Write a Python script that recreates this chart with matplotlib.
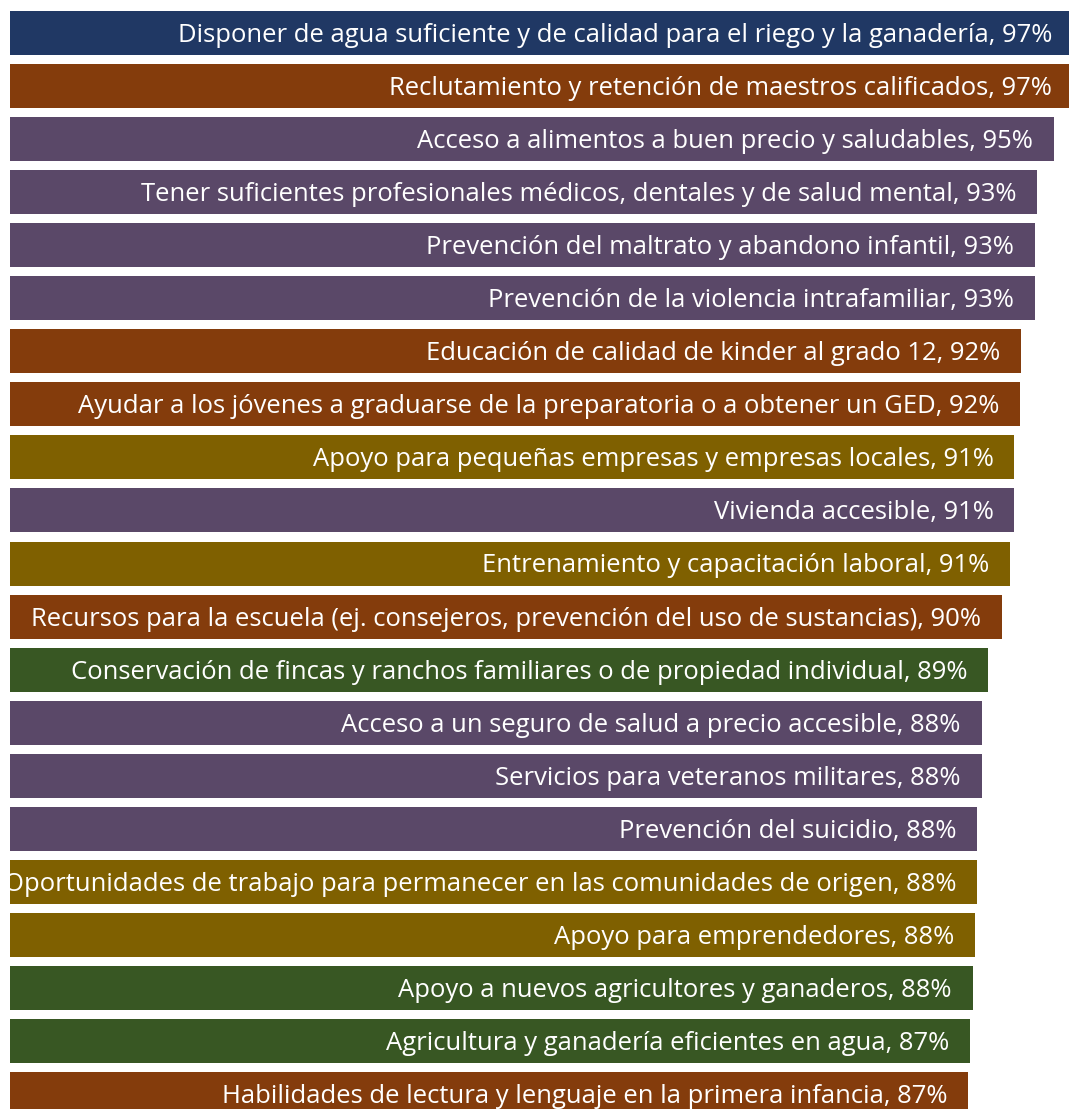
import matplotlib
matplotlib.use("Agg")
import matplotlib.pyplot as plt

categories = [
    "Disponer de agua suficiente y de calidad para el riego y la ganadería",
    "Reclutamiento y retención de maestros calificados",
    "Acceso a alimentos a buen precio y saludables",
    "Tener suficientes profesionales médicos, dentales y de salud mental",
    "Prevención del maltrato y abandono infantil",
    "Prevención de la violencia intrafamiliar",
    "Educación de calidad de kinder al grado 12",
    "Ayudar a los jóvenes a graduarse de la preparatoria o a obtener un GED",
    "Apoyo para pequeñas empresas y empresas locales",
    "Vivienda accesible",
    "Entrenamiento y capacitación laboral",
    "Recursos para la escuela (ej. consejeros, prevención del uso de sustancias)",
    "Conservación de fincas y ranchos familiares o de propiedad individual",
    "Acceso a un seguro de salud a precio accesible",
    "Servicios para veteranos militares",
    "Prevención del suicidio",
    "Oportunidades de trabajo para permanecer en las comunidades de origen",
    "Apoyo para emprendedores",
    "Apoyo a nuevos agricultores y ganaderos",
    "Agricultura y ganadería eficientes en agua",
    "Habilidades de lectura y lenguaje en la primera infancia",
]
values = [96.8, 96.7, 95.0, 93.45, 93.3, 93.3, 92.0, 91.9, 91.4, 91.4, 91.0,
          90.3, 89.0, 88.4, 88.4, 88.0, 88.0, 87.8, 87.6, 87.35, 87.2]
pct_labels = ["97%", "97%", "95%", "93%", "93%", "93%", "92%", "92%", "91%", "91%", "91%",
              "90%", "89%", "88%", "88%", "88%", "88%", "88%", "88%", "87%", "87%"]
groups = ["agua", "educacion", "salud", "salud", "salud", "salud", "educacion", "educacion",
          "economia", "salud", "economia", "educacion", "agricultura", "salud", "salud",
          "salud", "economia", "economia", "agricultura", "agricultura", "educacion"]
group_colors = {
    "agua": "#203864",
    "educacion": "#843C0C",
    "salud": "#5A4868",
    "economia": "#7F6000",
    "agricultura": "#385723",
}

W, H = 1069, 1109
fig = plt.figure(figsize=(W / 100, H / 100), dpi=100)
ax = fig.add_axes([0, 0, 1, 1])

px_per_unit = 10.99
x0_px = 10.0
ax.set_xlim(-x0_px / px_per_unit, (W - x0_px) / px_per_unit)
pitch = 53.05
first_center = 33.0
ax.set_ylim((H - first_center) / pitch, -first_center / pitch)

ys = list(range(len(categories)))
colors = [group_colors[g] for g in groups]
ax.barh(ys, values, height=44 / pitch, color=colors, left=0)

FONT = ["Open Sans", "DejaVu Sans"]
pad_px = 21
labels = [f"{c}, {p}" for c, p in zip(categories, pct_labels)]

# choose a font size: first label ~912 px wide, but every label must stay inside the figure
renderer = fig.canvas.get_renderer()
fs = None
for i, lab in enumerate(labels):
    probe = fig.text(0, 0, lab, fontsize=16, family=FONT)
    w16 = probe.get_window_extent(renderer).width
    probe.remove()
    if i == 0:
        cand = 16 * 912 / w16
    else:
        avail = x0_px + values[i] * px_per_unit - pad_px - 4
        cand = 16 * avail / w16
    fs = cand if fs is None else min(fs, cand)

for y, v, lab in zip(ys, values, labels):
    ax.text(v - pad_px / px_per_unit, y + 9 / pitch, lab, ha="right", va="baseline",
            color="white", fontsize=fs, family=FONT)

ax.axis("off")
fig.savefig("out.png", dpi=100)
